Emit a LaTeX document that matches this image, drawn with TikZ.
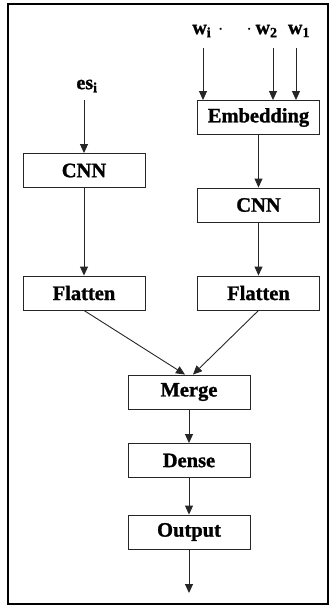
\documentclass[tikz,border=0pt]{standalone}
\usepackage{fontspec}
\setmainfont{Liberation Serif}[BoldFeatures={FakeBold=1.2}]
\usetikzlibrary{arrows.meta,calc}
\begin{document}
\begin{tikzpicture}[x=1pt,y=-1pt,
  layer/.style={draw=black!85,line width=0.9pt,fill=white,minimum width=122pt,
    minimum height=34pt,inner sep=0pt,font=\fontsize{20.5}{22}\selectfont\bfseries},
  lbl/.style={inner sep=0pt,font=\fontsize{20}{22}\selectfont\bfseries},
  flow/.style={draw=black!85,line width=0.9pt,-{Triangle[length=9pt,width=8pt]}}]
  \useasboundingbox (0,0) rectangle (332,608);
  \draw[line width=2.6pt] (8,4) rectangle (328,604);

  % left branch
  \node[lbl] (es) at (87,86) {es$_{\mathbf{i}}$};
  \coordinate (esout) at (84,100);
  \node[layer] (cnnL) at (84,170.5) {CNN};
  \node[layer] (flatL) at (84,293) {Flatten};

  % right branch
  \node[lbl] (wi) at (208,31) {w$_{\mathbf{i}}$\,\,$\cdot$};
  \node[lbl] (w2) at (262,31) {$\cdot$\,w$_{\mathbf{2}}$};
  \node[lbl] (w1) at (299,31) {w$_{\mathbf{1}}$};
  \coordinate (wiout) at (203,48);
  \coordinate (w2out) at (273,48);
  \coordinate (w1out) at (296,48);
  \node[layer] (emb) at (258.5,117.5) {Embedding};
  \node[layer] (cnnR) at (258.5,205) {CNN};
  \node[layer] (flatR) at (258.5,293) {Flatten};

  % merged trunk
  \node[layer] (merge) at (189,392) {Merge};
  \node[layer] (dense) at (189,460.5) {Dense};
  \node[layer] (out) at (189,532) {Output};
  \coordinate (end) at (189,593);

  \draw[flow] (esout) -- (esout |- cnnL.north);
  \draw[flow] (cnnL) -- (flatL);
  \draw[flow] (wiout) -- (wiout |- emb.north);
  \draw[flow] (w2out) -- (w2out |- emb.north);
  \draw[flow] (w1out) -- (w1out |- emb.north);
  \draw[flow] (emb) -- (cnnR);
  \draw[flow] (cnnR) -- (flatR);
  \draw[flow] (flatL.south) -- ($(merge.north)+(-4,0)$);
  \draw[flow] (flatR.south) -- ($(merge.north)+(4,0)$);
  \draw[flow] (merge) -- (dense);
  \draw[flow] (dense) -- (out);
  \draw[flow] (out) -- (end);
\end{tikzpicture}
\end{document}
